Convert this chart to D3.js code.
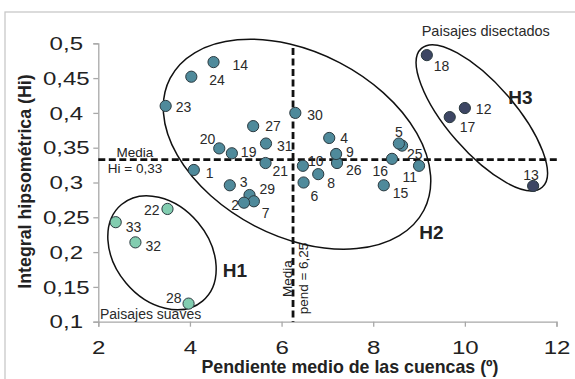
<!DOCTYPE html>
<html>
<head>
<meta charset="utf-8">
<script src="https://cdn.jsdelivr.net/npm/d3@7/dist/d3.min.js"></script>
<style>
  html, body { margin: 0; padding: 0; background: #ffffff; }
  svg { display: block; }
  text { font-family: "Liberation Sans", Arial, sans-serif; }
</style>
</head>
<body>
<script>
// ---------------- DATA ----------------
const basinIds = [1,2,3,4,5,6,7,8,9,10,11,12,13,14,15,16,17,18,19,20,21,22,23,24,25,26,27,28,29,30,31,32,33];
const slopeValues = [4.085,5.18,4.87,7.04,8.56,6.48,5.395,6.80,7.19,6.465,9.00,10.00,11.49,4.515,8.23,8.41,9.67,9.17,4.915,4.64,5.65,3.51,3.47,4.03,8.63,7.21,5.38,3.97,5.30,6.30,5.66,2.81,2.38];
const hiValues = [0.318,0.271,0.296,0.364,0.356,0.300,0.273,0.312,0.341,0.324,0.324,0.407,0.295,0.473,0.296,0.334,0.394,0.483,0.342,0.349,0.328,0.262,0.410,0.452,0.353,0.328,0.381,0.126,0.282,0.400,0.356,0.214,0.243];
const groupH1 = [22,28,32,33];
const groupH3 = [12,13,17,18];
const xTicks = [2,4,6,8,10,12];
const yTicks = [0.1,0.15,0.2,0.25,0.3,0.35,0.4,0.45,0.5];
const meanHi = 0.333;
const meanSlope = 6.25;
const xTitle = "Pendiente medio de las cuencas (º)";
const yTitle = "Integral hipsométrica (Hi)";
const groupNames = ["H1","H2","H3"];

// ---------------- LAYOUT ----------------
const W = 575, H = 379;
const x = d3.scaleLinear().domain([2,12]).range([98.3,556.5]);
const y = d3.scaleLinear().domain([0.1,0.5]).range([321.7,43.3]);
const fmt = v => String(v).replace(".", ",");

// label placement (dx, dy baseline, anchor) per basin id
const labelPos = {
  1:[12,8,"start"],2:[-5,7,"end"],3:[10,2,"start"],4:[11,5,"start"],5:[0,-7,"middle"],
  6:[7,18,"start"],7:[8,17,"start"],8:[9,14,"start"],9:[10,3,"start"],10:[5,0,"start"],
  11:[-2,16,"end"],12:[11,6,"start"],13:[-2,-6,"middle"],14:[19,8,"start"],15:[9,13,"start"],
  16:[-4,17,"end"],17:[10,15,"start"],18:[7,16,"start"],19:[9,4,"start"],20:[-4,-4,"end"],
  21:[7,13,"start"],22:[-8,6,"end"],23:[10,6,"start"],24:[18,8,"start"],25:[5,13,"start"],
  26:[9,12,"start"],27:[12,5,"start"],28:[-7,-1,"end"],29:[10,-1,"start"],30:[12,7,"start"],
  31:[11,7,"start"],32:[10,9,"start"],33:[10,10,"start"]
};
// group ellipses: center in data units, radii px, rotation deg; label position
const ellipses = [
  {name:"H1", cx:3.39, cy:0.199, rx:63, ry:47, rot:50, lx:222.7, ly:276.7},
  {name:"H2", cx:6.337, cy:0.355, rx:143, ry:92, rot:27.5, lx:419.3, ly:239.3},
  {name:"H3", cx:10.37, cy:0.393, rx:92, ry:34, rot:49, lx:508.3, ly:104}
];
const colorOf = id => groupH1.includes(id) ? "#82cdb0" : (groupH3.includes(id) ? "#3d4664" : "#4f8a9b");

const svg = d3.select("body").append("svg").attr("width", W).attr("height", H);

// frame
svg.append("rect").attr("x", 5).attr("y", 12).attr("width", 620).attr("height", 420)
  .attr("fill", "none").attr("stroke", "#c8c8c8").attr("stroke-width", 1.3);

// axes
const axisColor = "#a8a8a8";
const gx = svg.append("g").attr("transform", `translate(0,${y(0.1)})`)
  .call(d3.axisBottom(x).tickValues(xTicks).tickSize(5).tickFormat(d => fmt(d)));
gx.selectAll("text").attr("y", 0).attr("dy", 0)
  .attr("transform", "translate(0,32.5) scale(1.3,1)")
  .attr("font-size", 18.5).attr("fill", "#222").attr("font-family", "Liberation Sans, Arial, sans-serif");
const gy = svg.append("g").attr("transform", `translate(${x(2)},0)`)
  .call(d3.axisLeft(y).tickValues(yTicks).tickSize(5).tickFormat(d => fmt(d)));
gy.selectAll("text").attr("x", 0).attr("dy", "0.34em").attr("text-anchor", "middle")
  .attr("transform", "translate(-32,0) scale(1.3,1)")
  .attr("font-size", 18.5).attr("fill", "#222").attr("font-family", "Liberation Sans, Arial, sans-serif");
[gx, gy].forEach(g => {
  g.select(".domain").attr("stroke", axisColor).attr("stroke-width", 1.3);
  g.selectAll(".tick line").attr("stroke", axisColor).attr("stroke-width", 1.3);
});

// axis titles
svg.append("text").attr("x", 350).attr("y", 372.7).attr("text-anchor", "middle")
  .attr("font-size", 17.8).attr("font-weight", "bold").attr("fill", "#222").text(xTitle);
svg.append("text").attr("transform", "translate(31,181.5) rotate(-90)").attr("text-anchor", "middle")
  .attr("font-size", 17.8).attr("font-weight", "bold").attr("fill", "#222").text(yTitle);

// mean lines
svg.append("line").attr("x1", x(2)).attr("x2", 558).attr("y1", y(meanHi)).attr("y2", y(meanHi))
  .attr("stroke", "#111").attr("stroke-width", 2.8).attr("stroke-dasharray", "7,3.5");
svg.append("line").attr("x1", x(meanSlope)).attr("x2", x(meanSlope)).attr("y1", 48).attr("y2", y(0.1))
  .attr("stroke", "#111").attr("stroke-width", 2.8).attr("stroke-dasharray", "7,3.5");
svg.append("text").attr("x", 135).attr("y", 156.7).attr("text-anchor", "middle").attr("font-size", 13.5).attr("fill", "#222").text("Media");
svg.append("text").attr("x", 135).attr("y", 173.3).attr("text-anchor", "middle").attr("font-size", 13.5).attr("fill", "#222").text("Hi = " + fmt(meanHi.toFixed(2)));
svg.append("text").attr("transform", "translate(291.5,278.5) rotate(-90)").attr("text-anchor", "middle").attr("font-size", 13.5).attr("fill", "#222").text("Media");
svg.append("text").attr("transform", "translate(307.5,278.5) rotate(-90)").attr("text-anchor", "middle").attr("font-size", 13.5).attr("fill", "#222").text("pend = " + fmt(meanSlope));

// ellipses
ellipses.forEach(e => {
  svg.append("ellipse").attr("cx", 0).attr("cy", 0).attr("rx", e.rx).attr("ry", e.ry)
    .attr("transform", `translate(${x(e.cx)},${y(e.cy)}) rotate(${e.rot})`)
    .attr("fill", "none").attr("stroke", "#111").attr("stroke-width", 1.5);
  svg.append("text").attr("x", e.lx).attr("y", e.ly).attr("font-size", 19).attr("font-weight", "bold")
    .attr("fill", "#222").text(e.name);
});

// points
const pts = basinIds.map((id, i) => ({id, sx: slopeValues[i], hi: hiValues[i]}));
const order = pts.slice().reverse();
svg.append("g").selectAll("circle").data(order).join("circle")
  .attr("cx", d => x(d.sx)).attr("cy", d => y(d.hi)).attr("r", 5.6)
  .attr("fill", d => colorOf(d.id)).attr("stroke", "#2b3a40").attr("stroke-width", 1);
svg.append("g").selectAll("text").data(pts).join("text")
  .attr("x", d => x(d.sx) + labelPos[d.id][0]).attr("y", d => y(d.hi) + labelPos[d.id][1])
  .attr("text-anchor", d => labelPos[d.id][2]).attr("font-size", 14).attr("fill", "#2a2a2a")
  .text(d => d.id);

// annotations
svg.append("text").attr("x", 421.7).attr("y", 36).attr("font-size", 14.5).attr("fill", "#2a2a2a").text("Paisajes disectados");
svg.append("text").attr("x", 100).attr("y", 319).attr("font-size", 14).attr("fill", "#2a2a2a").text("Paisajes suaves");
</script>
</body>
</html>
